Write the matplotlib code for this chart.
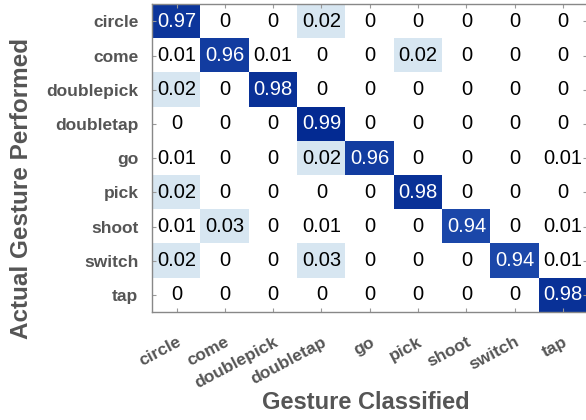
import numpy as np
import matplotlib
matplotlib.use('Agg')
import matplotlib.pyplot as plt
from matplotlib.colors import LinearSegmentedColormap

plt.rcParams['font.family'] = ['Liberation Sans', 'DejaVu Sans']

gestures = ['circle', 'come', 'doublepick', 'doubletap', 'go',
            'pick', 'shoot', 'switch', 'tap']

# rows = actual gesture, columns = classified gesture
conf = [
    [0.97, 0,    0,    0.02, 0,    0,    0,    0,    0],
    [0.01, 0.96, 0.01, 0,    0,    0.02, 0,    0,    0],
    [0.02, 0,    0.98, 0,    0,    0,    0,    0,    0],
    [0,    0,    0,    0.99, 0,    0,    0,    0,    0],
    [0.01, 0,    0,    0.02, 0.96, 0,    0,    0,    0.01],
    [0.02, 0,    0,    0,    0,    0.98, 0,    0,    0],
    [0.01, 0.03, 0,    0.01, 0,    0,    0.94, 0,    0.01],
    [0.02, 0,    0,    0.03, 0,    0,    0,    0.94, 0.01],
    [0,    0,    0,    0,    0,    0,    0,    0,    0.98],
]
conf = np.array(conf)

# white for tiny values, pale blue for small confusions, deep blue near 1
cmap = LinearSegmentedColormap.from_list('gest', [
    (0.0, '#ffffff'), (0.015, '#ffffff'), (0.016, '#d7e6f1'),
    (0.05, '#d7e6f1'), (0.93, '#214eae'), (1.0, '#00268f')])

fig = plt.figure(figsize=(5.86, 4.2), dpi=100)
ax = fig.add_axes([0.26, 0.257, 0.742, 0.733])
ax.imshow(conf, cmap=cmap, vmin=0, vmax=1, aspect='auto')

n = len(gestures)
for i in range(n):
    for j in range(n):
        v = conf[i, j]
        txt = '0' if v == 0 else f'{v:.2f}'
        ax.text(j, i, txt, ha='center', va='center', fontsize=14.5,
                color='white' if v > 0.5 else 'black')

ax.set_xticks(range(n))
ax.set_yticks(range(n))
ax.set_xticklabels(gestures, rotation=28, ha='right', rotation_mode='anchor',
                   fontsize=12.5, fontweight='bold', color='#555555')
ax.set_yticklabels(gestures, fontsize=12.5, fontweight='bold', color='#555555')
ax.tick_params(direction='in', length=3, color='#999999', pad=10,
               top=True, right=True)
ax.tick_params(axis='x', pad=16)
for s in ax.spines.values():
    s.set_color('#888888')
    s.set_linewidth(1)

ax.set_xlabel('Gesture Classified', fontsize=17, fontweight='bold',
              color='#555555')
ax.xaxis.set_label_coords(0.49, -0.255)
ax.set_ylabel('Actual Gesture Performed', fontsize=17.5, fontweight='bold',
              color='#555555')
ax.yaxis.set_label_coords(-0.275, 0.40)

fig.savefig('out.png', dpi=100)
